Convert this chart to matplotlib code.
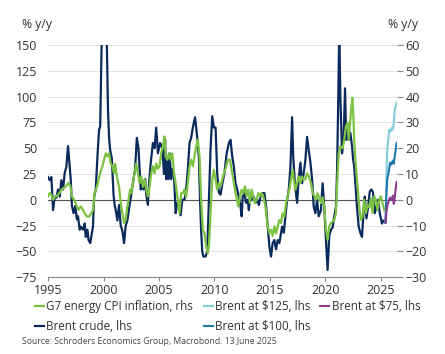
import matplotlib
matplotlib.use("Agg")
import matplotlib.pyplot as plt

plt.rcParams['font.family'] = ['Open Sans', 'DejaVu Sans']

# Brent crude, % y/y (lhs)
brent_years = [1995.0, 1995.15, 1995.3, 1995.45, 1995.6, 1995.75, 1995.9, 1996.05, 1996.2, 1996.35,
               1996.5, 1996.65, 1996.8, 1996.95, 1997.05, 1997.15, 1997.3, 1997.45, 1997.6, 1997.7,
               1997.85, 1997.95, 1998.15, 1998.3, 1998.4, 1998.55, 1998.65, 1998.8, 1998.95, 1999.05,
               1999.15, 1999.3, 1999.45, 1999.6, 1999.7, 1999.85, 2000.0, 2000.15, 2000.3, 2000.4,
               2000.5, 2000.6, 2000.75, 2000.9, 2001.0, 2001.1, 2001.25, 2001.4, 2001.55, 2001.7,
               2001.85, 2002.0, 2002.15, 2002.35, 2002.5, 2002.7, 2002.85, 2003.0, 2003.15, 2003.35,
               2003.5, 2003.6, 2003.75, 2003.85, 2004.0, 2004.1, 2004.25, 2004.45, 2004.6, 2004.75,
               2004.9, 2005.1, 2005.3, 2005.45, 2005.55, 2005.65, 2005.75, 2005.85, 2005.95, 2006.1,
               2006.2, 2006.35, 2006.5, 2006.65, 2006.8, 2006.95, 2007.1, 2007.3, 2007.45, 2007.6,
               2007.75, 2007.9, 2008.05, 2008.25, 2008.45, 2008.6, 2008.7, 2008.8, 2008.9, 2009.0,
               2009.2, 2009.35, 2009.5, 2009.65, 2009.8, 2009.95, 2010.1, 2010.25, 2010.4, 2010.55,
               2010.7, 2010.9, 2011.1, 2011.3, 2011.45, 2011.6, 2011.75, 2011.9, 2012.05, 2012.2,
               2012.35, 2012.45, 2012.55, 2012.7, 2012.85, 2013.0, 2013.1, 2013.25, 2013.4, 2013.55,
               2013.7, 2013.85, 2014.0, 2014.15, 2014.3, 2014.5, 2014.65, 2014.8, 2014.95, 2015.1,
               2015.25, 2015.4, 2015.55, 2015.7, 2015.85, 2016.0, 2016.1, 2016.25, 2016.4, 2016.55,
               2016.7, 2016.85, 2017.0, 2017.1, 2017.25, 2017.45, 2017.6, 2017.75, 2017.9, 2018.05,
               2018.2, 2018.35, 2018.5, 2018.65, 2018.8, 2018.95, 2019.1, 2019.25, 2019.4, 2019.6,
               2019.75, 2019.9, 2020.05, 2020.2, 2020.35, 2020.5, 2020.65, 2020.8, 2020.95, 2021.05,
               2021.15, 2021.25, 2021.35, 2021.5, 2021.65, 2021.77, 2021.88, 2022.0, 2022.1, 2022.25,
               2022.4, 2022.5, 2022.6, 2022.7, 2022.85, 2023.0, 2023.15, 2023.3, 2023.45, 2023.55,
               2023.7, 2023.85, 2024.0, 2024.15, 2024.3, 2024.45, 2024.6, 2024.75, 2024.9, 2025.1,
               2025.25, 2025.42]
brent_vals = [22, 19, 22, -10, 3, 2, 10, 3, 19, 10,
              26, 32, 52, 32, 19, -6, -13, -6, -19, -16,
              -29, -26, -29, -23, -36, -29, -39, -42, -32, -26,
              3, 10, 42, 68, 71, 165, 175, 160, 150, 88,
              60, 48, 40, 5, -5, -10, -20, -5, -25, -30,
              -42, -25, -20, -5, 5, 20, 30, 60, 50, 10,
              15, 10, 20, 5, -5, 15, 35, 55, 50, 70,
              45, 55, 50, 25, 58, 20, 39, 20, 45, 20,
              30, 25, -13, -3, -5, -15, 0, 0, 10, 30,
              55, 60, 70, 80, 60, 40, 0, -30, -50, -55,
              -55, -50, 0, 50, 81, 70, 70, 25, 7, 5,
              15, 26, 45, 55, 58, 42, 32, 16, 10, 3,
              -6, -16, 3, 6.5, -3, 0, -10, 6.5, 0, 3,
              -3, 0, -5, 3, 6.5, 6.5, -6, -26, -45, -55,
              -42, -39, -48, -39, -42, -32, -26, -32, -16, 0,
              10, 32, 80, 42, 16, -3, 21, 36, 16, 26,
              39, 61, 48, 36, 20, -7, -13, 0, -16, -10,
              16, -7, -39, -68, -35, -29, -27, -16, -7, 26,
              90, 165, 100, 45, 60, 108, 58, 71, 58, 65,
              52, 39, 32, 16, -7, -26, -32, -36, -10, 3,
              -18, -7, 8, 10, 7, -13, -7, 0, -13, -23,
              -20, -22]

# G7 energy CPI inflation, % y/y (rhs)
cpi_years = [1995.0, 1995.15, 1995.3, 1995.45, 1995.6, 1995.8, 1996.0, 1996.2, 1996.4, 1996.6,
             1996.85, 1997.0, 1997.15, 1997.35, 1997.6, 1997.75, 1997.95, 1998.1, 1998.3, 1998.5,
             1998.7, 1998.9, 1999.05, 1999.2, 1999.4, 1999.55, 1999.7, 1999.9, 2000.05, 2000.2,
             2000.35, 2000.5, 2000.65, 2000.8, 2000.95, 2001.05, 2001.2, 2001.4, 2001.55, 2001.7,
             2001.85, 2002.0, 2002.1, 2002.25, 2002.4, 2002.5, 2002.65, 2002.8, 2002.95, 2003.1,
             2003.25, 2003.4, 2003.55, 2003.7, 2003.85, 2004.0, 2004.15, 2004.3, 2004.45, 2004.6,
             2004.75, 2004.9, 2005.05, 2005.2, 2005.35, 2005.5, 2005.6, 2005.75, 2005.9, 2006.05,
             2006.2, 2006.35, 2006.5, 2006.7, 2006.85, 2007.0, 2007.15, 2007.3, 2007.45, 2007.6,
             2007.75, 2007.9, 2008.05, 2008.2, 2008.35, 2008.5, 2008.65, 2008.8, 2008.95, 2009.1,
             2009.25, 2009.4, 2009.5, 2009.65, 2009.8, 2009.95, 2010.1, 2010.25, 2010.4, 2010.55,
             2010.7, 2010.85, 2011.0, 2011.2, 2011.4, 2011.5, 2011.6, 2011.75, 2011.9, 2012.15,
             2012.3, 2012.45, 2012.6, 2012.75, 2012.9, 2013.05, 2013.2, 2013.35, 2013.5, 2013.65,
             2013.8, 2013.95, 2014.1, 2014.25, 2014.4, 2014.6, 2014.75, 2014.95, 2015.1, 2015.25,
             2015.4, 2015.55, 2015.7, 2015.85, 2016.0, 2016.15, 2016.3, 2016.45, 2016.6, 2016.75,
             2016.9, 2017.05, 2017.15, 2017.3, 2017.45, 2017.6, 2017.75, 2017.9, 2018.05, 2018.2,
             2018.35, 2018.5, 2018.7, 2018.85, 2019.0, 2019.15, 2019.3, 2019.45, 2019.6, 2019.75,
             2019.9, 2020.05, 2020.2, 2020.35, 2020.5, 2020.65, 2020.8, 2020.95, 2021.05, 2021.2,
             2021.35, 2021.55, 2021.7, 2021.85, 2022.0, 2022.1, 2022.2, 2022.3, 2022.43, 2022.5,
             2022.6, 2022.75, 2022.9, 2023.05, 2023.2, 2023.35, 2023.5, 2023.65, 2023.8, 2023.95,
             2024.1, 2024.25, 2024.4, 2024.55, 2024.7, 2024.85, 2025.0, 2025.15, 2025.3]
cpi_vals = [1.3, 2.6, 2.0, 0, 1.0, 1.5, 2.5, 3.9, 4.5, 5.2,
            6.5, 5.5, 1.3, 0, -2.6, -3.9, -2.6, -3.5, -5.2, -6.5,
            -6.5, -5.2, -4, 2.6, 5, 7.8, 10.3, 13, 15.5, 18,
            16.8, 18, 14, 13, 10.3, 14, 9, 5, -1.3, -5.2,
            -9, -7.8, -4, 0, 4, 2.6, 6.5, 10.3, 14, 10.3,
            6.5, 9, 5, 7.8, 4, 1.3, 5, 10.3, 13, 10.3,
            14, 12, 13, 18, 21, 24.5, 16.8, 15.5, 18, 15.5,
            18, 10.3, 6.5, 0, -5.2, 2.6, 2.6, 4, 1, 6.5,
            13, 15.5, 13, 16.8, 20.7, 23.3, 16.8, 0, -11.6, -13,
            -18, -20.7, -18, -5.2, 7.8, 11.6, 7.8, 3.9, 6.5, 5.2,
            7.8, 10.3, 12, 15.5, 15.5, 13, 10.3, 6.5, 2.6, -2.6,
            1.3, 3.9, 2.6, 5.2, 1.3, 3.9, -1.3, 3.9, 1.3, -1.3,
            0, 2.6, 1.3, 2.6, 1.3, -2.6, -9, -13, -11.6, -14,
            -10.3, -13, -10.3, -7.8, -9, -5.2, -6.5, -1.3, 1.3, 4,
            7.8, 11.6, 7.8, 3.9, 6.5, 9, 6.5, 9, 7.8, 8,
            10.3, 9, 6.5, 2.6, 1.5, 0, 2.6, 0.5, -1.3, 1.0,
            -2.6, -11.6, -15.5, -10.3, -9, -8.5, -7.8, -5.2, 5, 18,
            20.7, 20, 23.3, 28.5, 29.8, 23.3, 28.5, 33.7, 39.6, 35,
            23.3, 13, 5.2, -2.6, -7.8, -6.5, 0, -5.2, -2, -3,
            0.5, -5, 1.3, 0, -4, 0, 1.3, -1.3, -4]

# Brent price scenarios, % y/y (lhs)
scen_years = [2025.42, 2025.5, 2025.58, 2025.67, 2025.75, 2025.83, 2025.92,
              2026.0, 2026.08, 2026.17, 2026.25, 2026.33, 2026.42]
brent_125 = [-22, 20, 50, 58, 68, 66, 67, 70, 68, 75, 87, 90, 94]
brent_100 = [-22, 5, 20, 25, 30, 36, 34, 35, 38, 35, 42, 48, 55]
brent_75 = [-22, -12, -6, -3, 0, 2, 1, 0, 4, -4, 2, 10, 17]

left_ticks = [-75, -50, -25, 0, 25, 50, 75, 100, 125, 150]
right_ticks = [-30, -20, -10, 0, 10, 20, 30, 40, 50, 60]
year_ticks = [1995, 2000, 2005, 2010, 2015, 2020, 2025]

NAVY = '#0b2a5c'
GREEN = '#7cc242'
CYAN = '#7fd0d8'
BLUE = '#1f78ab'
PURPLE = '#8b3a8f'
TXT = '#333333'

fig = plt.figure(figsize=(4.45, 3.54), dpi=100)
ax = fig.add_axes([0.108, 0.217, 0.784, 0.656])
ax2 = ax.twinx()

ax.set_xlim(1995, 2026.45)
ax.set_ylim(-75, 150)
ax2.set_ylim(-30, 60)

for t in left_ticks:
    if t != 0:
        ax.axhline(t, color='#e3e3e3', lw=0.7, zorder=0)
ax.axhline(0, color='#555555', lw=0.8, zorder=1)

l_brent, = ax.plot(brent_years, brent_vals, color=NAVY, lw=1.6, zorder=3)
l_125, = ax.plot(scen_years, brent_125, color=CYAN, lw=1.5, zorder=3)
l_100, = ax.plot(scen_years, brent_100, color=BLUE, lw=1.5, zorder=3)
l_75, = ax.plot(scen_years, brent_75, color=PURPLE, lw=1.5, zorder=3)
l_cpi, = ax2.plot(cpi_years, cpi_vals, color=GREEN, lw=1.6, zorder=3)

ax.set_yticks(left_ticks)
ax.set_xticks(year_ticks)
ax2.set_yticks(right_ticks)

for a in (ax, ax2):
    for s in ('top', 'left', 'right'):
        a.spines[s].set_visible(False)
ax2.spines['bottom'].set_visible(False)
ax.spines['bottom'].set_color('#888888')
ax.spines['bottom'].set_linewidth(0.8)

ax.tick_params(axis='y', length=0, labelsize=9, labelcolor=TXT, pad=8)
ax.tick_params(axis='x', length=3, color='#888888', labelsize=9, labelcolor=TXT, pad=2)
ax2.tick_params(axis='y', length=4, color='#888888', labelsize=9, labelcolor=TXT, pad=2)

fig.text(0.05, 0.93, '% y/y', fontsize=8.7, color=TXT, ha='left', va='center')
fig.text(0.94, 0.93, '% y/y', fontsize=8.7, color=TXT, ha='right', va='center')

leg_kw = dict(loc='upper left', frameon=False, fontsize=8.4, handlelength=0.8,
              handletextpad=0.2, labelspacing=0.6, borderaxespad=0, borderpad=0,
              labelcolor=TXT)
fig.legend([l_cpi, l_brent, l_125, l_100],
           ['G7 energy CPI inflation, rhs', 'Brent crude, lhs',
            'Brent at $125, lhs', 'Brent at $100, lhs'],
           bbox_to_anchor=(0.078, 0.152), ncol=2, columnspacing=0.9, **leg_kw)
fig.legend([l_75], ['Brent at $75, lhs'], bbox_to_anchor=(0.719, 0.152), **leg_kw)

fig.text(0.05, 0.034, 'Source: Schroders Economics Group, Macrobond. 13 June 2025',
         fontsize=6.2, color='#444444', ha='left', va='center')

fig.savefig('out.png', dpi=100)
